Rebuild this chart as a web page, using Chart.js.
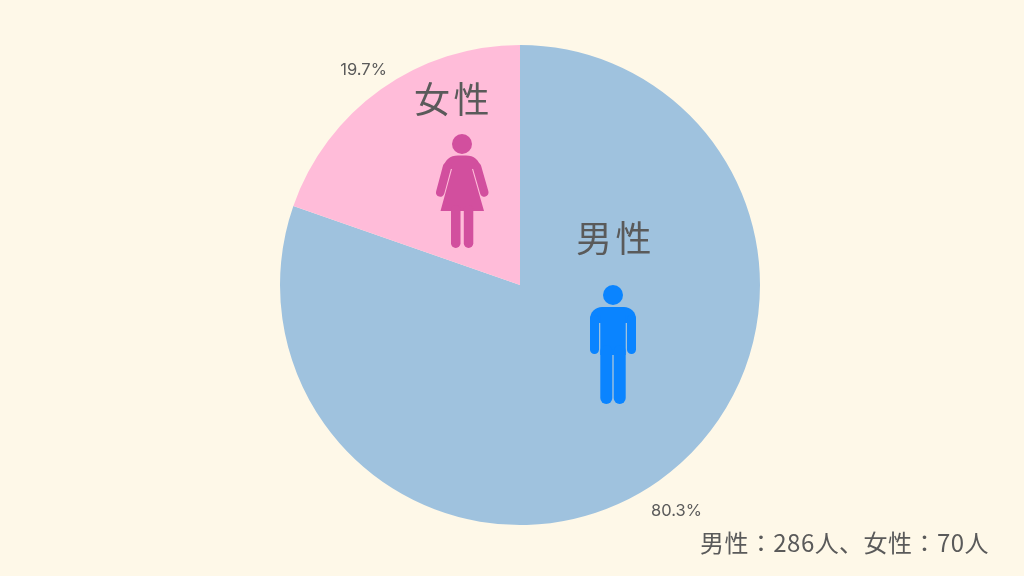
<!DOCTYPE html>
<html lang="ja">
<head>
<meta charset="utf-8">
<style>
html,body{margin:0;padding:0;background:#FEF8E8;width:1024px;height:576px;overflow:hidden}
#wrap{position:relative;width:1024px;height:576px}
</style>
<script src="https://cdn.jsdelivr.net/npm/chart.js@4"></script>
</head>
<body>
<div id="wrap"><canvas id="c" width="1024" height="576"></canvas></div>
<script>
const categories = ["男性", "女性"];
const counts = [286, 70];
const percentLabels = ["80.3%", "19.7%"];
const sliceColors = ["#9FC2DE", "#FFBCD9"];
const note = "男性：286人、女性：70人";

const TEXT = "#5A5A5A";
const CJK = '"Noto Sans CJK JP","Noto Sans",sans-serif';

function rr(ctx, x, y, w, h, r) { ctx.beginPath(); ctx.roundRect(x, y, w, h, r); ctx.fill(); }

function drawMan(ctx) {
  ctx.fillStyle = "#0A84FF";
  ctx.beginPath(); ctx.arc(613, 295, 10, 0, Math.PI * 2); ctx.fill();
  rr(ctx, 590, 307, 46, 16, [12, 12, 0, 0]);
  rr(ctx, 590, 315, 9, 39, 4.5);
  rr(ctx, 627, 315, 9, 39, 4.5);
  ctx.fillRect(600.3, 315, 25.4, 40);
  rr(ctx, 600.3, 345, 12, 59, 6);
  rr(ctx, 613.7, 345, 12, 59, 6);
}

function drawWoman(ctx) {
  ctx.fillStyle = ctx.strokeStyle = "#D24F9E";
  ctx.beginPath(); ctx.arc(462, 144, 10, 0, Math.PI * 2); ctx.fill();
  ctx.beginPath();
  ctx.moveTo(442.8, 168);
  ctx.bezierCurveTo(445, 160, 450, 155.5, 458, 155.5);
  ctx.lineTo(466, 155.5);
  ctx.bezierCurveTo(474, 155.5, 479, 160, 481.2, 168);
  ctx.lineTo(472, 169);
  ctx.lineTo(484, 211);
  ctx.lineTo(440.5, 211);
  ctx.lineTo(452, 169);
  ctx.closePath();
  ctx.fill();
  ctx.lineWidth = 8.5; ctx.lineCap = "round";
  ctx.beginPath(); ctx.moveTo(447, 167); ctx.lineTo(440.2, 192.5); ctx.stroke();
  ctx.beginPath(); ctx.moveTo(477, 167); ctx.lineTo(484.3, 192.5); ctx.stroke();
  rr(ctx, 451, 205, 9.5, 43, 4.7);
  rr(ctx, 463.8, 205, 9.5, 43, 4.7);
}

const overlay = {
  id: "overlay",
  afterDatasetsDraw(chart) {
    const ctx = chart.ctx;
    ctx.save();
    drawMan(ctx);
    drawWoman(ctx);
    ctx.fillStyle = TEXT;
    ctx.textBaseline = "middle";
    ctx.textAlign = "left";
    ctx.font = "36px " + CJK;
    ctx.letterSpacing = "3.5px";
    ctx.fillText(categories[0], 576, 238.5);
    ctx.fillText(categories[1], 414, 99.5);
    ctx.letterSpacing = "0.45px";
    ctx.font = "24px " + CJK;
    ctx.fillText(note, 700, 542.5);
    ctx.letterSpacing = "0px";
    ctx.font = '16.5px Inter,"Noto Sans",sans-serif';
    ctx.textAlign = "center";
    chart.getDatasetMeta(0).data.forEach((arc, i) => {
      const mid = (arc.startAngle + arc.endAngle) / 2;
      const r = arc.outerRadius + 30;
      ctx.fillText(percentLabels[i], arc.x + Math.cos(mid) * r, arc.y + Math.sin(mid) * r + 5.5);
    });
    ctx.restore();
  }
};

new Chart(document.getElementById("c"), {
  type: "pie",
  data: {
    labels: categories,
    datasets: [{ data: counts, backgroundColor: sliceColors, borderWidth: 0, hoverOffset: 0 }]
  },
  options: {
    responsive: false,
    animation: false,
    layout: { padding: { left: 280, right: 264, top: 45, bottom: 51 } },
    plugins: { legend: { display: false }, tooltip: { enabled: false } }
  },
  plugins: [overlay]
});
</script>
</body>
</html>
